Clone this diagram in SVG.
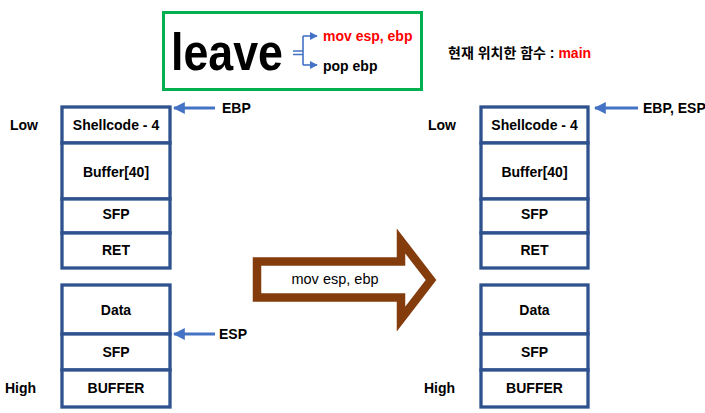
<svg xmlns="http://www.w3.org/2000/svg" width="705" height="413" viewBox="0 0 705 413">
<defs>
<style>
text{font-family:"Liberation Sans","Noto Sans CJK KR",sans-serif;font-weight:bold;font-size:14px;fill:#000}
.c{text-anchor:middle}
.cell{fill:#fff;stroke:#2F528F;stroke-width:3.3}
.ptr{stroke:#4472C4;stroke-width:3;fill:none}
.br{stroke:#4472C4;stroke-width:1.6;fill:none}
.red{fill:#FF0000}
</style>
<marker id="ah" viewBox="0 0 10 10" refX="9" refY="5" markerWidth="4" markerHeight="4" orient="auto" markerUnits="strokeWidth"><path d="M0,0 L10,5 L0,10 Z" fill="#4472C4"/></marker>
<marker id="ahs" viewBox="0 0 10 10" refX="9" refY="5" markerWidth="5" markerHeight="5" orient="auto" markerUnits="strokeWidth"><path d="M0,0 L10,5 L0,10 Z" fill="#4472C4"/></marker>
</defs>
<rect width="705" height="413" fill="#fff"/>

<g id="title">
<rect x="163.5" y="12.5" width="258" height="77" fill="#fff" stroke="#00B050" stroke-width="3"/>
<text x="171" y="69.5" font-size="52" textLength="112" lengthAdjust="spacingAndGlyphs" style="font-size:52px">leave</text>
<path class="br" d="M293,51 H303 M293,54.5 H303 M303,36 V65"/>
<path class="br" d="M303,36 H317" marker-end="url(#ahs)"/>
<path class="br" d="M303,65 H317" marker-end="url(#ahs)"/>
<text x="323" y="41" class="red">mov esp, ebp</text>
<text x="323" y="71">pop ebp</text>
</g>

<g id="current-func">
<text x="448" y="58">현재 위치한 함수 : <tspan class="red">main</tspan></text>
</g>

<g id="left-stack-top">
<rect class="cell" x="62" y="107" width="108" height="36"/>
<rect class="cell" x="62" y="143" width="108" height="56"/>
<rect class="cell" x="62" y="199" width="108" height="34"/>
<rect class="cell" x="62" y="233" width="108" height="35"/>
<text class="c" x="116" y="130">Shellcode - 4</text>
<text class="c" x="116" y="177">Buffer[40]</text>
<text class="c" x="116" y="219">SFP</text>
<text class="c" x="116" y="255">RET</text>
<text x="10" y="130">Low</text>
</g>

<g id="left-stack-bottom">
<rect class="cell" x="62" y="285" width="108" height="49"/>
<rect class="cell" x="62" y="334" width="108" height="36"/>
<rect class="cell" x="62" y="370" width="108" height="37"/>
<text class="c" x="116" y="315">Data</text>
<text class="c" x="116" y="357">SFP</text>
<text class="c" x="116" y="393">BUFFER</text>
<text x="5" y="393">High</text>
</g>

<g id="right-stack-top">
<rect class="cell" x="481" y="107" width="107" height="36"/>
<rect class="cell" x="481" y="143" width="107" height="56"/>
<rect class="cell" x="481" y="199" width="107" height="34"/>
<rect class="cell" x="481" y="233" width="107" height="35"/>
<text class="c" x="534.5" y="130">Shellcode - 4</text>
<text class="c" x="534.5" y="177">Buffer[40]</text>
<text class="c" x="534.5" y="219">SFP</text>
<text class="c" x="534.5" y="255">RET</text>
<text x="428" y="130">Low</text>
</g>

<g id="right-stack-bottom">
<rect class="cell" x="481" y="285" width="107" height="49"/>
<rect class="cell" x="481" y="334" width="107" height="36"/>
<rect class="cell" x="481" y="370" width="107" height="37"/>
<text class="c" x="534.5" y="315">Data</text>
<text class="c" x="534.5" y="357">SFP</text>
<text class="c" x="534.5" y="393">BUFFER</text>
<text x="424" y="393">High</text>
</g>

<g id="transition">
<path d="M257,261.5 H401 V241 L431,280 L401,319 V297.5 H257 Z" fill="#fff" stroke="#843C0C" stroke-width="8.5" stroke-linejoin="miter" stroke-miterlimit="10"/>
<text class="c" x="335" y="284" style="font-weight:normal;font-size:14.5px">mov esp, ebp</text>
</g>

<g id="connectors">
<path class="ptr" d="M215,108 H174" marker-end="url(#ah)"/>
<path class="ptr" d="M215,334 H174" marker-end="url(#ah)"/>
<path class="ptr" d="M638,108 H595" marker-end="url(#ah)"/>
</g>

<g id="pointer-labels">
<text x="222" y="113">EBP</text>
<text x="219" y="339">ESP</text>
<text x="643" y="113">EBP, ESP</text>
</g>
</svg>
